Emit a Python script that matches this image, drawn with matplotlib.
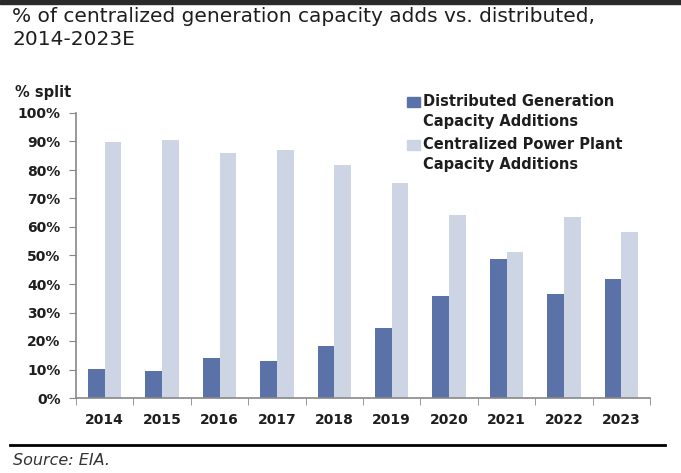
import numpy as np
import matplotlib.pyplot as plt
from matplotlib.patches import Rectangle
from matplotlib.ticker import FuncFormatter, FixedLocator

years = ['2014', '2015', '2016', '2017', '2018', '2019', '2020', '2021', '2022', '2023']
distributed = [10.1, 9.5, 13.9, 13.1, 18.4, 24.7, 35.9, 48.7, 36.4, 41.8]
centralized = [89.9, 90.5, 86.1, 86.9, 81.6, 75.3, 64.1, 51.3, 63.6, 58.2]
labels = ['Distributed Generation\nCapacity Additions', 'Centralized Power Plant\nCapacity Additions']

dark = '#5b72a8'
light = '#cdd5e5'
txt = '#1e1e1e'
plt.rcParams['font.family'] = ['DejaVu Sans']

W, H = 681, 473
fig = plt.figure(figsize=(W/100, H/100), dpi=100)
ax = fig.add_axes([76/W, 1 - 398/H, 574/W, 285/H])

x = np.arange(len(years))
w = 0.29
ax.bar(x - w/2, distributed, w, color=dark)
ax.bar(x + w/2, centralized, w, color=light)

ax.set_xlim(-0.5, len(years) - 0.5)
ax.set_ylim(0, 100)
ax.set_yticks(np.arange(0, 101, 10))
ax.yaxis.set_major_formatter(FuncFormatter(lambda v, p: '%d%%' % v))
ax.set_xticks(x)
ax.set_xticklabels(years)
ax.xaxis.set_minor_locator(FixedLocator(np.arange(-0.5, len(years), 1)))
ax.tick_params(axis='x', which='major', length=0, pad=11, labelsize=10)
ax.tick_params(axis='x', which='minor', length=5, color='#888888', direction='out')
ax.tick_params(axis='y', length=5, color='#888888', labelsize=10, pad=6)
for lab in ax.get_xticklabels() + ax.get_yticklabels():
    lab.set_fontweight('bold')
    lab.set_color(txt)

for s in ['top', 'right']:
    ax.spines[s].set_visible(False)
for s in ['left', 'bottom']:
    ax.spines[s].set_color('#888888')
    ax.spines[s].set_linewidth(1.2)

# legend: swatch sits next to the first line of each two-line label
for i, (lab, col) in enumerate(zip(labels, [dark, light])):
    yc = 102 + i * 43
    fig.add_artist(Rectangle((407/W, 1 - (yc + 5)/H), 13/W, 10/H,
                             transform=fig.transFigure, color=col))
    fig.text(423/W, 1 - (yc - 8)/H, lab, fontsize=10.5, fontweight='bold', color=txt,
             va='top', ha='left', linespacing=1.45)

# dark strip along the top edge of the screenshot
fig.add_artist(Rectangle((0, 1 - 4/H), 1, 4/H, transform=fig.transFigure, color='#2a2a2a'))
fig.text(12/W, 1 - 22/H, '% of centralized generation capacity adds vs. distributed,',
         fontsize=14.5, color=txt, va='baseline', ha='left')
fig.text(12/W, 1 - 45/H, '2014-2023E', fontsize=14.5, color=txt, va='baseline', ha='left')
fig.text(15/W, 1 - 93/H, '% split', fontsize=10.5, fontweight='bold', color=txt, va='center')

fig.add_artist(plt.Line2D([10/W, 665/W], [1 - 445/H, 1 - 445/H], color='black', lw=2))
fig.text(13/W, 1 - 460/H, 'Source: EIA.', fontsize=11.5, style='italic', color='#333333', va='center')

fig.savefig('out.png', dpi=100)
